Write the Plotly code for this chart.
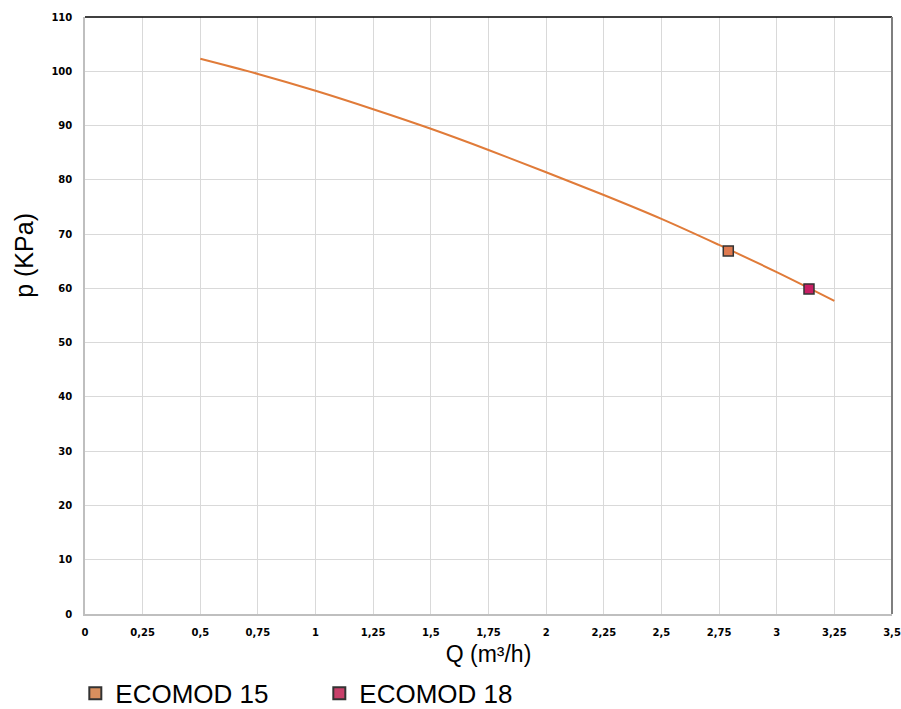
import plotly.graph_objects as go

# Pump curve data
curve_q = [0.5, 0.75, 1.0, 1.25, 1.5, 1.75, 2.0, 2.25, 2.5, 2.75, 3.0, 3.25]
curve_p = [102.3, 99.5, 96.4, 93.0, 89.4, 85.5, 81.4, 77.2, 72.8, 68.0, 63.0, 57.7]

model_names = ["ECOMOD 15", "ECOMOD 18"]
model_q = [2.79, 3.14]
model_p = [66.9, 59.9]
model_colors = ["#DF7A50", "#C81E64"]
legend_colors = ["#D98F5E", "#C8406A"]

x_ticks = [0, 0.25, 0.5, 0.75, 1, 1.25, 1.5, 1.75, 2, 2.25, 2.5, 2.75, 3, 3.25, 3.5]
x_labels = ["0", "0,25", "0,5", "0,75", "1", "1,25", "1,5", "1,75", "2", "2,25", "2,5", "2,75", "3", "3,25", "3,5"]
y_ticks = [0, 10, 20, 30, 40, 50, 60, 70, 80, 90, 100, 110]

fig = go.Figure()
fig.add_trace(go.Scatter(x=curve_q, y=curve_p, mode="lines",
                         line=dict(color="#E07B39", width=2, shape="spline"),
                         showlegend=False, hoverinfo="skip"))
for name, q, p, c, lc in zip(model_names, model_q, model_p, model_colors, legend_colors):
    fig.add_trace(go.Scatter(x=[q], y=[p], mode="markers", name=name, legendgroup=name,
                             showlegend=False,
                             marker=dict(symbol="square", size=10, color=c,
                                         line=dict(color="#333333", width=1.5))))
    fig.add_trace(go.Scatter(x=[None], y=[None], mode="markers", name=name, legendgroup=name,
                             showlegend=True,
                             marker=dict(symbol="square", size=13, color=lc,
                                         line=dict(color="#333333", width=1.5))))

tickfont = dict(family="DejaVu Sans", size=10, color="#000000", weight="bold")
fig.update_layout(
    width=901, height=709,
    margin=dict(l=85, r=9, t=17, b=95, autoexpand=False),
    paper_bgcolor="white", plot_bgcolor="white",
    showlegend=True,
    legend=dict(orientation="h", x=-0.012, xanchor="left", y=-0.133, yanchor="middle",
                font=dict(family="Liberation Sans", size=26, color="#000000"),
                entrywidth=199, entrywidthmode="pixels", itemsizing="constant"),
    xaxis=dict(range=[0, 3.5], tickvals=x_ticks, ticktext=x_labels, automargin=False,
               showgrid=True, gridcolor="#D9D9D9", gridwidth=1,
               showline=True, linecolor="#BFBFBF", linewidth=1.5,
               zeroline=False, ticks="", tickfont=tickfont, ticklabelstandoff=8,
               title=dict(text="Q (m³/h)", font=dict(family="Liberation Sans", size=23, color="#000000"),
                          standoff=9)),
    yaxis=dict(range=[0, 110], tickvals=y_ticks, automargin=False,
               showgrid=True, gridcolor="#D9D9D9", gridwidth=1,
               showline=True, linecolor="#BFBFBF", linewidth=1.5,
               zeroline=False, ticks="", tickfont=tickfont, ticklabelstandoff=9),
)
fig.add_annotation(text="p (KPa)", xref="paper", yref="paper", x=0, y=0.6,
                   xshift=-61, xanchor="center", yanchor="middle", textangle=-90,
                   showarrow=False,
                   font=dict(family="Liberation Sans", size=25, color="#000000"))
fig.add_shape(type="line", xref="paper", yref="paper", x0=0, x1=1, y0=1, y1=1,
              line=dict(color="#000000", width=1.5))
fig.add_shape(type="line", xref="paper", yref="paper", x0=1, x1=1, y0=0, y1=1,
              line=dict(color="#7F7F7F", width=2))

fig.write_html("out.html", config={"displayModeBar": False},
               post_script="document.body.style.margin='0';document.body.style.padding='0';document.body.style.overflow='hidden';")
